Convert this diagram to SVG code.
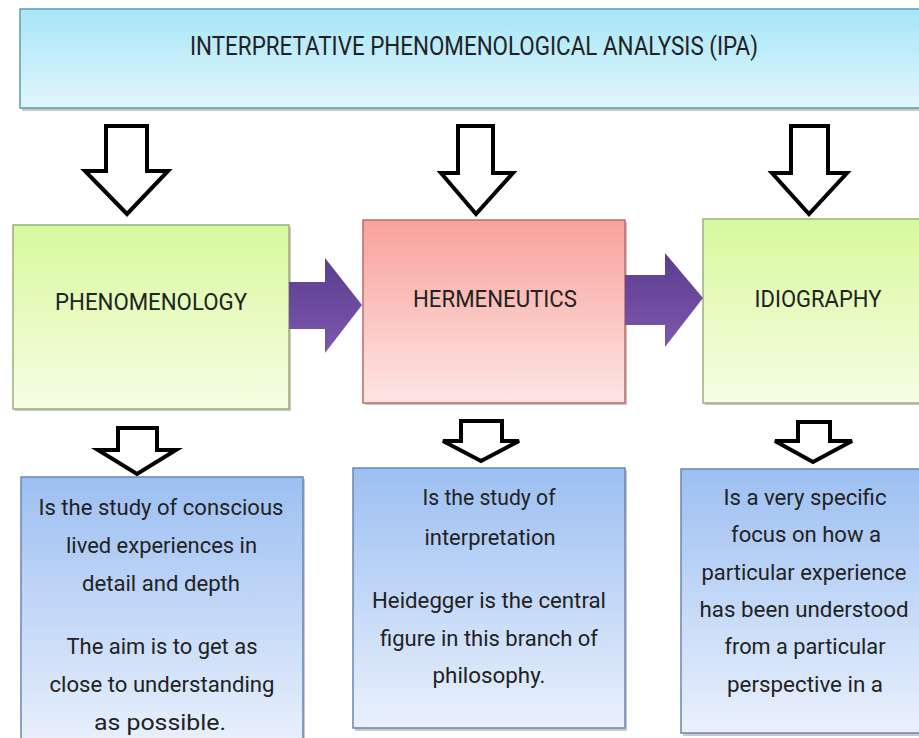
<svg xmlns="http://www.w3.org/2000/svg" width="919" height="738" viewBox="0 0 919 738">
<defs>
<linearGradient id="gCyan" x1="0" y1="0" x2="0" y2="1"><stop offset="0" stop-color="#a6e6f8"/><stop offset="1" stop-color="#e2f5fb"/></linearGradient>
<linearGradient id="gGreen" x1="0" y1="0" x2="0" y2="1"><stop offset="0" stop-color="#d8f99c"/><stop offset="1" stop-color="#f6fde4"/></linearGradient>
<linearGradient id="gRed" x1="0" y1="0" x2="0" y2="1"><stop offset="0" stop-color="#f9a19c"/><stop offset="1" stop-color="#fde6e4"/></linearGradient>
<linearGradient id="gBlue" x1="0" y1="0" x2="0" y2="1"><stop offset="0" stop-color="#9cbff2"/><stop offset="1" stop-color="#eaf1fc"/></linearGradient>
<linearGradient id="gPurple" x1="0" y1="0" x2="0" y2="1"><stop offset="0" stop-color="#5b3d8e"/><stop offset="1" stop-color="#7c58ae"/></linearGradient>
</defs>
<style>
.t{font-family:Roboto,"Liberation Sans",sans-serif;fill:#222;text-anchor:middle}
.lbl{font-size:24px}
.body{font-size:21.5px}
.shadow{fill:#888;opacity:0.45}
.hollow{fill:#fff;stroke:#000;stroke-width:4;stroke-linejoin:miter}
.block{fill:url(#gPurple)}
</style>
<rect width="919" height="738" fill="#fff"/>

<g id="ipa">
<rect class="shadow" x="22" y="11" width="910" height="100"/>
<rect x="20" y="9" width="910" height="99" fill="url(#gCyan)" stroke="#5a9ea8" stroke-width="1.5"/>
<text class="t" x="474" y="55" font-size="25" textLength="568" lengthAdjust="spacingAndGlyphs">INTERPRETATIVE PHENOMENOLOGICAL ANALYSIS (IPA)</text>
</g>

<g id="phenomenology">
<rect class="shadow" x="15" y="227" width="276" height="184"/>
<rect x="13" y="225" width="276" height="184" fill="url(#gGreen)" stroke="#9cad7e" stroke-width="1.5"/>
<text class="t lbl" x="151" y="310" textLength="192" lengthAdjust="spacingAndGlyphs">PHENOMENOLOGY</text>
</g>

<g id="hermeneutics">
<rect class="shadow" x="365" y="222" width="262" height="183"/>
<rect x="363" y="220" width="262" height="183" fill="url(#gRed)" stroke="#c06a68" stroke-width="1.5"/>
<text class="t lbl" x="495" y="307" textLength="164" lengthAdjust="spacingAndGlyphs">HERMENEUTICS</text>
</g>

<g id="idiography">
<rect class="shadow" x="705" y="221" width="232" height="184"/>
<rect x="703" y="219" width="232" height="184" fill="url(#gGreen)" stroke="#9cad7e" stroke-width="1.5"/>
<text class="t lbl" x="818" y="307" textLength="127" lengthAdjust="spacingAndGlyphs">IDIOGRAPHY</text>
</g>

<g id="desc-phenomenology">
<rect class="shadow" x="23" y="479" width="282" height="270"/>
<rect x="21" y="477" width="282" height="270" fill="url(#gBlue)" stroke="#6a86b0" stroke-width="1.5"/>
<text class="t body" x="161" y="515" textLength="245" lengthAdjust="spacingAndGlyphs">Is the study of conscious</text>
<text class="t body" x="161.5" y="553" textLength="191" lengthAdjust="spacingAndGlyphs">lived experiences in</text>
<text class="t body" x="161" y="591" textLength="158" lengthAdjust="spacingAndGlyphs">detail and depth</text>
<text class="t body" x="162" y="654" textLength="191" lengthAdjust="spacingAndGlyphs">The aim is to get as</text>
<text class="t body" x="162" y="692" textLength="225" lengthAdjust="spacingAndGlyphs">close to understanding</text>
<text class="t body" x="160" y="730" textLength="132" lengthAdjust="spacingAndGlyphs">as possible.</text>
</g>

<g id="desc-hermeneutics">
<rect class="shadow" x="355" y="470" width="272" height="261"/>
<rect x="353" y="468" width="272" height="260" fill="url(#gBlue)" stroke="#6a86b0" stroke-width="1.5"/>
<text class="t body" x="489" y="505" textLength="133" lengthAdjust="spacingAndGlyphs">Is the study of</text>
<text class="t body" x="490" y="545" textLength="131" lengthAdjust="spacingAndGlyphs">interpretation</text>
<text class="t body" x="489" y="608" textLength="234" lengthAdjust="spacingAndGlyphs">Heidegger is the central</text>
<text class="t body" x="489" y="646" textLength="218" lengthAdjust="spacingAndGlyphs">figure in this branch of</text>
<text class="t body" x="489" y="683" textLength="113" lengthAdjust="spacingAndGlyphs">philosophy.</text>
</g>

<g id="desc-idiography">
<rect class="shadow" x="683" y="471" width="252" height="265"/>
<rect x="681" y="469" width="252" height="264" fill="url(#gBlue)" stroke="#6a86b0" stroke-width="1.5"/>
<text class="t body" x="805" y="505" textLength="163" lengthAdjust="spacingAndGlyphs">Is a very specific</text>
<text class="t body" x="806" y="542" textLength="150" lengthAdjust="spacingAndGlyphs">focus on how a</text>
<text class="t body" x="804" y="580" textLength="205" lengthAdjust="spacingAndGlyphs">particular experience</text>
<text class="t body" x="804" y="617" textLength="209" lengthAdjust="spacingAndGlyphs">has been understood</text>
<text class="t body" x="805" y="654" textLength="161" lengthAdjust="spacingAndGlyphs">from a particular</text>
<text class="t body" x="805" y="692" textLength="156" lengthAdjust="spacingAndGlyphs">perspective in a</text>
</g>

<g id="connectors">
<polygon class="hollow" points="106,126 147,126 147,171 168,171 127,214 85,171 106,171"/>
<polygon class="hollow" points="458,126 493,126 493,173 513,173 476,214 441,173 458,173"/>
<polygon class="hollow" points="791,126 828,126 828,173 847,173 809,214 772,173 791,173"/>
<polygon class="hollow" points="118,428 157,428 157,450 176,450 137,474 98,450 118,450"/>
<polygon class="hollow" points="461,421 502,421 502,441 519,441 481,461 443,441 461,441"/>
<polygon class="hollow" points="798,422 830,422 830,441 852,441 813,462 775,441 798,441"/>
<polygon class="block" points="289,282 325,282 325,258 362,305 325,353 325,329 289,329"/>
<polygon class="block" points="625,275 665,275 665,253 703,298 665,347 665,325 625,325"/>
</g>
</svg>
